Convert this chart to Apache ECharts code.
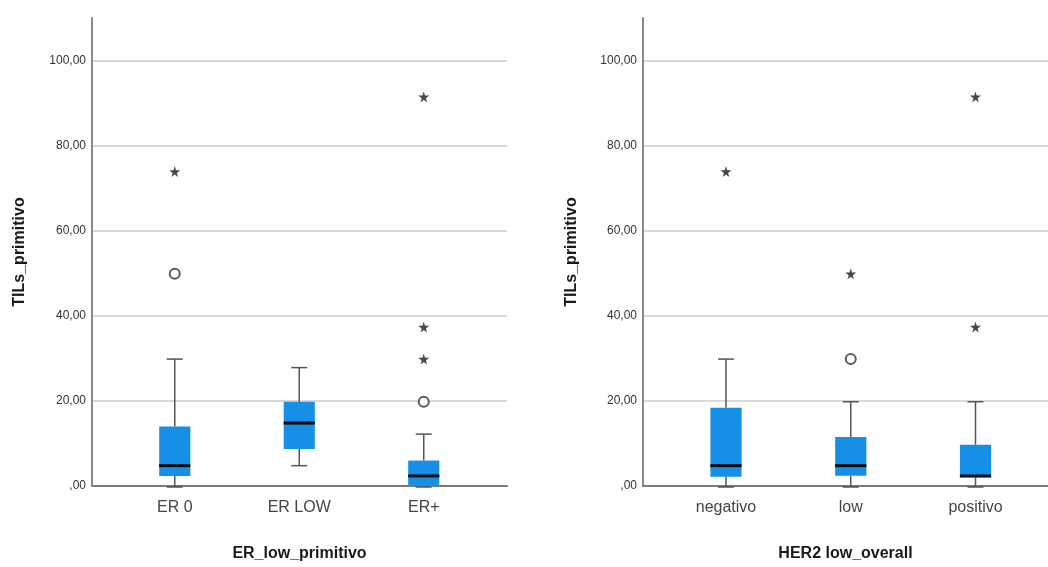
<!DOCTYPE html>
<html>
<head>
<meta charset="utf-8">
<script src="https://cdn.jsdelivr.net/npm/echarts@6/dist/echarts.min.js"></script>
<style>html,body{margin:0;padding:0;background:#fff}#c{width:1048px;height:567px}</style>
</head>
<body>
<div id="c"></div>
<script>
// ---- data ----
var categoriesER = ['ER 0', 'ER LOW', 'ER+'];
// [min whisker, Q1, median, Q3, max whisker]
var boxER = [
  [0, 2.6, 5, 14.2, 30],
  [5, 8.9, 15, 20, 28],
  [0, 0.3, 2.6, 6.2, 12.4]
];
var circlesER = [[0, 50], [2, 20]];
var starsER = [[0, 74], [2, 30], [2, 37.5], [2, 91.5]];

var categoriesHER = ['negativo', 'low', 'positivo'];
var boxHER = [
  [0, 2.4, 5, 18.6, 30],
  [0, 2.65, 5, 11.7, 20],
  [0, 2.3, 2.6, 9.9, 20]
];
var circlesHER = [[1, 30]];
var starsHER = [[0, 74], [1, 50], [2, 37.5], [2, 91.5]];

var yTicksMax = 110;
var yInterval = 20;
var yAxisTitle = 'TILs_primitivo';
var xTitleER = 'ER_low_primitivo';
var xTitleHER = 'HER2 low_overall';

// ---- styles ----
var FONT = '"Liberation Sans", Arial, sans-serif';
var BOX_COLOR = '#1590e6';
var STAR = 'path://M50,0 L61,35 L98,35 L68,57 L79,91 L50,70 L21,91 L32,57 L2,35 L39,35 Z';

function fmt(v) {
  if (v === 0) return ',00';
  return v.toFixed(2).replace('.', ',');
}

function renderBox(params, api) {
  var idx = api.value(0);
  var vmin = api.value(1), q1 = api.value(2), med = api.value(3), q3 = api.value(4), vmax = api.value(5);
  var pMin = api.coord([idx, vmin]);
  var pQ1 = api.coord([idx, q1]);
  var pMed = api.coord([idx, med]);
  var pQ3 = api.coord([idx, q3]);
  var pMax = api.coord([idx, vmax]);
  var x = pMin[0];
  var band = api.size([1, 0])[0];
  var bw = band * 0.25;
  var cw = 16;
  var lineStyle = { stroke: '#555555', lineWidth: 1.5 };
  return {
    type: 'group',
    children: [
      { type: 'line', shape: { x1: x, y1: pMax[1], x2: x, y2: pQ3[1] }, style: lineStyle },
      { type: 'line', shape: { x1: x, y1: pQ1[1], x2: x, y2: pMin[1] }, style: lineStyle },
      { type: 'line', shape: { x1: x - cw / 2, y1: pMax[1], x2: x + cw / 2, y2: pMax[1] }, style: lineStyle },
      { type: 'line', shape: { x1: x - cw / 2, y1: pMin[1], x2: x + cw / 2, y2: pMin[1] }, style: lineStyle },
      { type: 'rect', shape: { x: x - bw / 2, y: pQ3[1], width: bw, height: pQ1[1] - pQ3[1] }, style: { fill: BOX_COLOR } },
      { type: 'line', shape: { x1: x - bw / 2, y1: pMed[1], x2: x + bw / 2, y2: pMed[1] }, style: { stroke: '#0a0a0a', lineWidth: 3 } }
    ]
  };
}

function frameY(gridIndex) {
  return {
    type: 'value', gridIndex: gridIndex, min: 0, max: yTicksMax, interval: yInterval,
    name: yAxisTitle, nameLocation: 'middle', nameGap: gridIndex === 0 ? 64 : 63,
    nameTextStyle: { fontFamily: FONT, fontSize: 16, fontWeight: 'bold', color: '#1a1a1a' },
    axisLine: { show: true, lineStyle: { color: '#8a8a8a', width: 2 } },
    axisTick: { show: false },
    axisLabel: { formatter: fmt, fontFamily: FONT, fontSize: 12, color: '#333', margin: 6, showMaxLabel: false },
    splitLine: { show: true, showMaxLine: false, lineStyle: { color: '#cccccc', width: 1.5 } }
  };
}
function frameX(gridIndex, title) {
  return {
    type: 'value', gridIndex: gridIndex, min: 0, max: 1,
    name: title, nameLocation: 'middle', nameGap: 60,
    nameTextStyle: { fontFamily: FONT, fontSize: 16, fontWeight: 'bold', color: '#1a1a1a' },
    axisLine: { show: true, onZero: false, lineStyle: { color: '#7a7a7a', width: 2 } },
    axisTick: { show: false }, axisLabel: { show: false }, splitLine: { show: false }
  };
}
function dataX(gridIndex, cats) {
  return {
    type: 'category', gridIndex: gridIndex, data: cats,
    axisLine: { show: false }, axisTick: { show: false },
    axisLabel: { interval: 0, fontFamily: FONT, fontSize: 16, color: '#454545', margin: 13 },
    splitLine: { show: false }
  };
}
function dataY(gridIndex) {
  return { type: 'value', gridIndex: gridIndex, min: 0, max: yTicksMax, show: false, splitLine: { show: false } };
}

function boxData(arr) {
  return arr.map(function (b, i) { return [i].concat(b); });
}

var option = {
  animation: false,
  backgroundColor: '#fff',
  grid: [
    { left: 92, width: 415, top: 18, bottom: 80 },
    { left: 112.5, width: 373.5, top: 18, bottom: 80 },
    { left: 643, width: 405, top: 18, bottom: 80 },
    { left: 663.6, width: 374.3, top: 18, bottom: 80 }
  ],
  xAxis: [frameX(0, xTitleER), dataX(1, categoriesER), frameX(2, xTitleHER), dataX(3, categoriesHER)],
  yAxis: [frameY(0), dataY(1), frameY(2), dataY(3)],
  series: [
    { type: 'custom', xAxisIndex: 1, yAxisIndex: 1, renderItem: renderBox, data: boxData(boxER), z: 3 },
    { type: 'scatter', xAxisIndex: 1, yAxisIndex: 1, data: circlesER, symbol: 'emptyCircle', symbolSize: 10,
      itemStyle: { color: '#333', borderWidth: 2 }, z: 4 },
    { type: 'scatter', xAxisIndex: 1, yAxisIndex: 1, data: starsER, symbol: STAR, symbolSize: 11,
      itemStyle: { color: '#1a1a1a' }, z: 4 },
    { type: 'custom', xAxisIndex: 3, yAxisIndex: 3, renderItem: renderBox, data: boxData(boxHER), z: 3 },
    { type: 'scatter', xAxisIndex: 3, yAxisIndex: 3, data: circlesHER, symbol: 'emptyCircle', symbolSize: 10,
      itemStyle: { color: '#333', borderWidth: 2 }, z: 4 },
    { type: 'scatter', xAxisIndex: 3, yAxisIndex: 3, data: starsHER, symbol: STAR, symbolSize: 11,
      itemStyle: { color: '#1a1a1a' }, z: 4 }
  ]
};

var chart = echarts.init(document.getElementById('c'), null, { renderer: 'canvas' });
chart.setOption(option);
</script>
</body>
</html>
